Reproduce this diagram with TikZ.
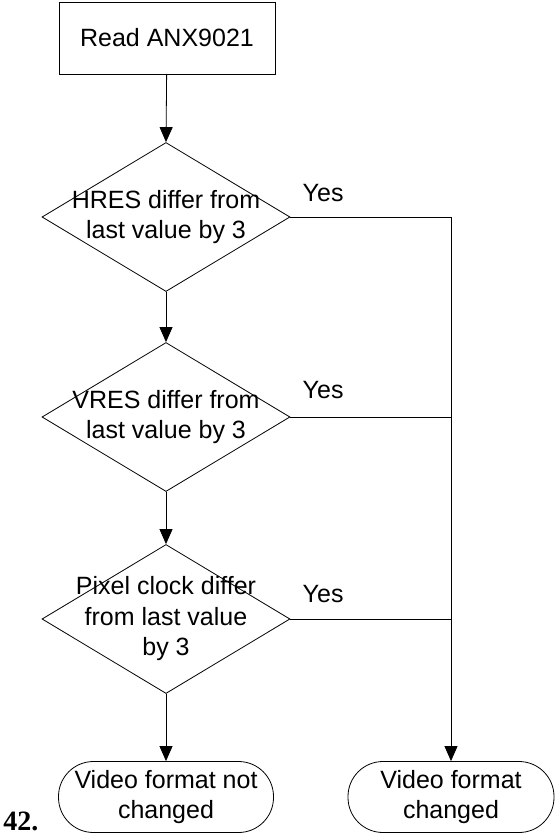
\documentclass[tikz,border=0pt]{standalone}
\usepackage{fontspec}
\setmainfont{Liberation Sans}
\newfontfamily\numfont{Liberation Serif}
\usetikzlibrary{shapes.geometric,arrows.meta}

\begin{document}
\begin{tikzpicture}[x=1pt, y=-1pt, line width=0.8pt,
    txt/.style={font=\fontsize{25}{30.5}\selectfont, align=center},
    process/.style={draw, rectangle, minimum width=216pt, minimum height=72pt, inner sep=0pt, txt},
    decision/.style={draw, diamond, minimum width=248pt, minimum height=149pt, inner sep=0pt},
    term/.style={draw, rectangle, rounded corners=35pt, minimum height=71pt, inner sep=0pt, txt},
    flow/.style={-{Triangle[length=15pt,width=13pt]}}]
    \useasboundingbox (0,0) rectangle (556,839);
    \node[process] (read) at (167,38) {Read ANX9021};
    \node[decision, label={[txt]center:HRES differ from\\last value by 3}] (hres) at (166,217) {};
    \node[decision, label={[txt]center:VRES differ from\\last value by 3}] (vres) at (166,417) {};
    \node[decision, label={[txt]center:Pixel clock differ\\from last value\\by 3}] (pclk) at (166,619) {};
    \node[term, minimum width=215pt] (same) at (166,797) {Video format not\\changed};
    \node[term, minimum width=206pt] (changed) at (451,797) {Video format\\changed};
    \coordinate (bus) at (451,217);
    % yes labels
    \node[txt, anchor=west] (yes1) at (299,193) {Yes};
    \node[txt, anchor=west] (yes2) at (299,390) {Yes};
    \node[txt, anchor=west] (yes3) at (299,594) {Yes};
    \node[anchor=base west, font=\numfont\bfseries\fontsize{28}{30}\selectfont, inner sep=0pt] (num) at (3,830) {42.};
    % connectors
    \draw[flow] (read) -- (hres.north);
    \draw[flow] (hres.south) -- (vres.north);
    \draw[flow] (vres.south) -- (pclk.north);
    \draw[flow] (pclk.south) -- (same.north);
    \draw[flow] (hres.east) -- (bus) -- (changed.north);
    \draw (vres.east) -- (vres.east -| bus);
    \draw (pclk.east) -- (pclk.east -| bus);
  \end{tikzpicture}
\end{document}
